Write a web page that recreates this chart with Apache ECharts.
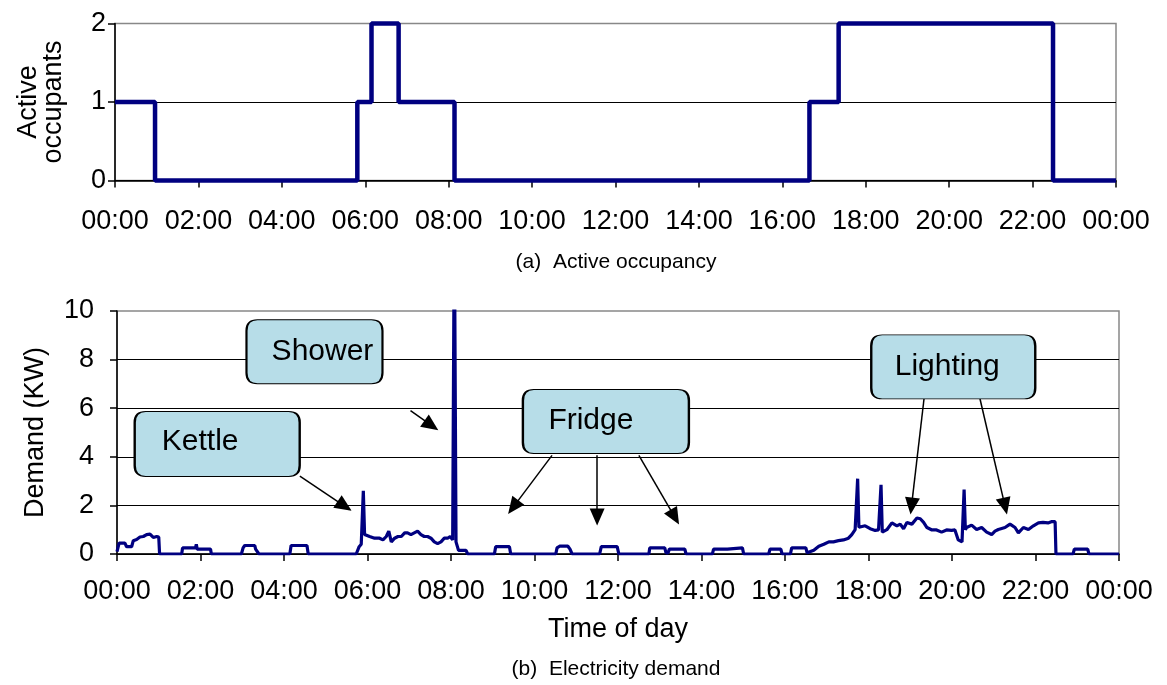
<!DOCTYPE html>
<html>
<head>
<meta charset="utf-8">
<script src="https://cdn.jsdelivr.net/npm/echarts@6/dist/echarts.min.js"></script>
<style>
html,body{margin:0;padding:0;background:#fff;}
#chart{width:1167px;height:685px;}
</style>
</head>
<body>
<div id="chart"></div>
<script>
// ---- data (hours of day) ----
const xTickHours = [0, 2, 4, 6, 8, 10, 12, 14, 16, 18, 20, 22, 24];

// Active occupancy: change times and the value held from each time on
const occTimes  = [0, 0.96, 5.81, 6.15, 6.8, 8.14, 16.65, 17.35, 22.49, 24];
const occValues = [1, 0,    1,    2,    1,   0,    1,     2,     0,     0];

// Electricity demand (kW)
const demandTimes = [
  0, 0.05, 0.19, 0.23, 0.35, 0.39, 0.47, 0.55, 0.63, 0.71, 0.79, 0.83, 0.87, 0.95, 1.0, 1.02,
  1.55, 1.57, 1.88, 1.9, 1.92, 2.24, 2.26,
  2.98, 3.02, 3.06, 3.3, 3.32, 3.36, 3.4,
  4.14, 4.17, 4.55, 4.58,
  5.73, 5.8, 5.85, 5.9, 5.93, 6.05, 6.17, 6.29, 6.37, 6.45, 6.51, 6.57, 6.65, 6.73, 6.81, 6.89, 6.96,
  7.04, 7.12, 7.2, 7.28, 7.36, 7.44, 7.52, 7.6, 7.68, 7.76, 7.84, 7.92, 7.98, 8.04, 8.08, 8.12, 8.18, 8.36, 8.4,
  9.04, 9.07, 9.4, 9.43,
  10.51, 10.54, 10.6, 10.8, 10.85, 10.9,
  11.56, 11.6, 11.98, 12.02,
  12.74, 12.76, 13.12, 13.15, 13.2, 13.23, 13.6, 13.63,
  14.26, 14.29, 14.62, 14.65, 14.98, 15.01,
  15.61, 15.64, 15.9, 15.93,
  16.13, 16.16, 16.5, 16.53, 16.69, 16.81, 16.93, 17.05, 17.16, 17.28, 17.4, 17.52, 17.6, 17.68, 17.72,
  17.74, 17.77, 17.8, 17.92, 18.04, 18.16, 18.24, 18.28, 18.3, 18.33, 18.36, 18.44, 18.56, 18.68, 18.76,
  18.84, 18.92, 19.04, 19.16, 19.24, 19.32, 19.4, 19.52, 19.63, 19.75, 19.87, 19.99, 20.07, 20.15, 20.24,
  20.27, 20.29, 20.32, 20.35, 20.47, 20.59, 20.71, 20.83, 20.95, 21.03, 21.11, 21.15, 21.27, 21.39, 21.51,
  21.59, 21.71, 21.83, 21.95, 22.07, 22.18, 22.3, 22.38, 22.47, 22.49,
  22.9, 22.93, 23.25, 23.28, 24
];
const demandKW = [
  0.1, 0.45, 0.45, 0.3, 0.3, 0.55, 0.6, 0.7, 0.72, 0.8, 0.82, 0.75, 0.68, 0.72, 0.7, 0,
  0, 0.25, 0.25, 0.4, 0.2, 0.2, 0,
  0, 0.25, 0.35, 0.35, 0.2, 0.2, 0,
  0, 0.35, 0.35, 0,
  0, 0.3, 0.4, 2.6, 0.8, 0.72, 0.65, 0.65, 0.58, 0.72, 0.94, 0.5, 0.65, 0.72, 0.72, 0.87, 0.87,
  0.8, 0.87, 0.94, 0.8, 0.72, 0.72, 0.65, 0.5, 0.43, 0.5, 0.65, 0.65, 0.72, 0.58, 14, 0.5, 0.15, 0.15, 0,
  0, 0.3, 0.3, 0,
  0, 0.25, 0.32, 0.32, 0.2, 0,
  0, 0.3, 0.3, 0,
  0, 0.25, 0.25, 0.05, 0.05, 0.2, 0.2, 0,
  0, 0.2, 0.2, 0.25, 0.25, 0,
  0, 0.2, 0.2, 0,
  0, 0.25, 0.25, 0.05, 0.15, 0.32, 0.4, 0.5, 0.5, 0.55, 0.58, 0.65, 0.8, 1.0, 1.05,
  3.1, 1.1, 1.13, 1.16, 1.04, 0.97, 0.99, 0.95, 2.85, 0.9, 0.94, 1.0, 1.28, 1.16, 1.23,
  1.04, 1.3, 1.23, 1.48, 1.45, 1.3, 1.09, 0.99, 0.99, 0.9, 0.99, 0.97, 0.99, 0.58, 0.5,
  0.55, 2.65, 1.0, 1.09, 1.19, 1.01, 1.09, 0.9, 0.8, 0.94, 1.01, 0.94, 1.09, 1.23, 1.09,
  0.87, 1.09, 1.01, 1.16, 1.28, 1.3, 1.28, 1.33, 1.33, 0,
  0, 0.2, 0.2, 0, 0
];

// Callouts: label, box centre [hour, kW], arrows as [fromHour, fromKW, toHour, toKW]
const callouts = [
  {name: 'Kettle',   at: [2.4, 4.53],  arrows: [[4.38, 3.2, 5.45, 1.97]]},
  {name: 'Shower',   at: [4.73, 8.32], arrows: [[7.03, 5.9, 7.53, 5.29]]},
  {name: 'Fridge',   at: [11.71, 5.45], arrows: [[10.42, 4.06, 9.49, 1.93], [11.5, 4.06, 11.5, 1.52], [12.5, 4.06, 13.36, 1.52]]},
  {name: 'Lighting', at: [20.03, 7.7], arrows: [[19.33, 6.39, 19.03, 1.97], [20.67, 6.39, 21.27, 1.97]]}
];

// ---- presentation ----
const FONT = "'Liberation Sans', Arial, sans-serif";
const boxStyle = {
  Kettle:   {size: [165, 65], offset: [-17, -2]},
  Shower:   {size: [136, 64], offset: [8, 0]},
  Fridge:   {size: [166, 64], offset: [-15, -1]},
  Lighting: {size: [164, 64], offset: [-6, 0]}
};
function roundRectPath(w, h, r) {
  return 'path://M' + r + ',0 L' + (w - r) + ',0 Q' + w + ',0 ' + w + ',' + r +
    ' L' + w + ',' + (h - r) + ' Q' + w + ',' + h + ' ' + (w - r) + ',' + h +
    ' L' + r + ',' + h + ' Q0,' + h + ' 0,' + (h - r) + ' L0,' + r + ' Q0,0 ' + r + ',0 Z';
}

const hourLabel = v => String(Math.round(v) % 24).padStart(2, '0') + ':00';

function xAxisCfg(gridIndex, margin, extra) {
  return Object.assign({
    type: 'value', gridIndex: gridIndex, min: 0, max: 24, interval: 2,
    axisLine: {show: true, onZero: false, lineStyle: {color: '#000', width: 1.5}},
    axisTick: {show: true, inside: false, length: 7, lineStyle: {color: '#000', width: 1.5}},
    axisLabel: {formatter: hourLabel, color: '#000', fontSize: 27, fontFamily: FONT, margin: margin},
    splitLine: {show: false}
  }, extra || {});
}
function yAxisCfg(gridIndex, max, interval, margin, name, nameGap) {
  return {
    type: 'value', gridIndex: gridIndex, min: 0, max: max, interval: interval,
    name: name, nameLocation: 'middle', nameGap: nameGap, nameRotate: 90,
    nameTextStyle: {color: '#000', fontSize: 27, fontFamily: FONT, lineHeight: 25},
    axisLine: {show: true, lineStyle: {color: '#000', width: 1.5}},
    axisTick: {show: true, inside: false, length: 7, lineStyle: {color: '#000', width: 1.5}},
    axisLabel: {color: '#000', fontSize: 27, fontFamily: FONT, margin: margin},
    splitLine: {show: true, showMaxLine: false, lineStyle: {color: '#000', width: 1.2}}
  };
}

const markPoints = callouts.map(c => {
  const s = boxStyle[c.name];
  return {
    coord: c.at,
    symbol: roundRectPath(s.size[0], s.size[1], 11),
    symbolSize: s.size,
    symbolKeepAspect: false,
    itemStyle: {color: '#b7dde8', borderColor: '#000', borderWidth: 1.5},
    label: {show: true, position: 'inside', formatter: c.name, color: '#000',
            fontSize: 30, fontFamily: FONT, offset: s.offset}
  };
});
const markLines = [];
callouts.forEach(c => c.arrows.forEach(a => {
  markLines.push([{coord: [a[0], a[1]]}, {coord: [a[2], a[3]]}]);
}));

const chart = echarts.init(document.getElementById('chart'), null, {renderer: 'canvas'});
chart.setOption({
  animation: false,
  backgroundColor: '#fff',
  grid: [
    {left: 115, right: 51, top: 23.5, height: 157, show: true, borderColor: '#888', borderWidth: 1.5, backgroundColor: 'transparent'},
    {left: 117, right: 48, top: 311, height: 243, show: true, borderColor: '#888', borderWidth: 1.5, backgroundColor: 'transparent'}
  ],
  xAxis: [
    xAxisCfg(0, 28),
    xAxisCfg(1, 24, {name: 'Time of day', nameLocation: 'middle', nameGap: 62,
      nameTextStyle: {color: '#000', fontSize: 27, fontFamily: FONT}})
  ],
  yAxis: [
    yAxisCfg(0, 2, 1, 9, 'Active\noccupants', 49),
    yAxisCfg(1, 10, 2, 23, 'Demand (KW)', 69)
  ],
  graphic: [
    {type: 'text', x: 616, y: 262, style: {text: '(a)  Active occupancy', font: '21px ' + FONT,
      fill: '#000', textAlign: 'center', textVerticalAlign: 'middle'}},
    {type: 'text', x: 616, y: 669, style: {text: '(b)  Electricity demand', font: '21px ' + FONT,
      fill: '#000', textAlign: 'center', textVerticalAlign: 'middle'}}
  ],
  series: [
    {
      type: 'line', xAxisIndex: 0, yAxisIndex: 0, step: 'end', showSymbol: false, symbol: 'none',
      lineStyle: {color: '#000080', width: 4.5}, clip: false,
      data: occTimes.map((t, i) => [t, occValues[i]])
    },
    {
      type: 'line', xAxisIndex: 1, yAxisIndex: 1, showSymbol: false, symbol: 'none',
      lineStyle: {color: '#000080', width: 3.2}, clip: true,
      data: demandTimes.map((t, i) => [t, demandKW[i]]),
      markPoint: {silent: true, animation: false, data: markPoints},
      markLine: {
        silent: true, animation: false, symbol: ['none', 'triangle'], symbolSize: [15, 17],
        lineStyle: {color: '#000', width: 1.5, type: 'solid'},
        label: {show: false}, emphasis: {disabled: true},
        data: markLines
      }
    }
  ]
});
</script>
</body>
</html>
